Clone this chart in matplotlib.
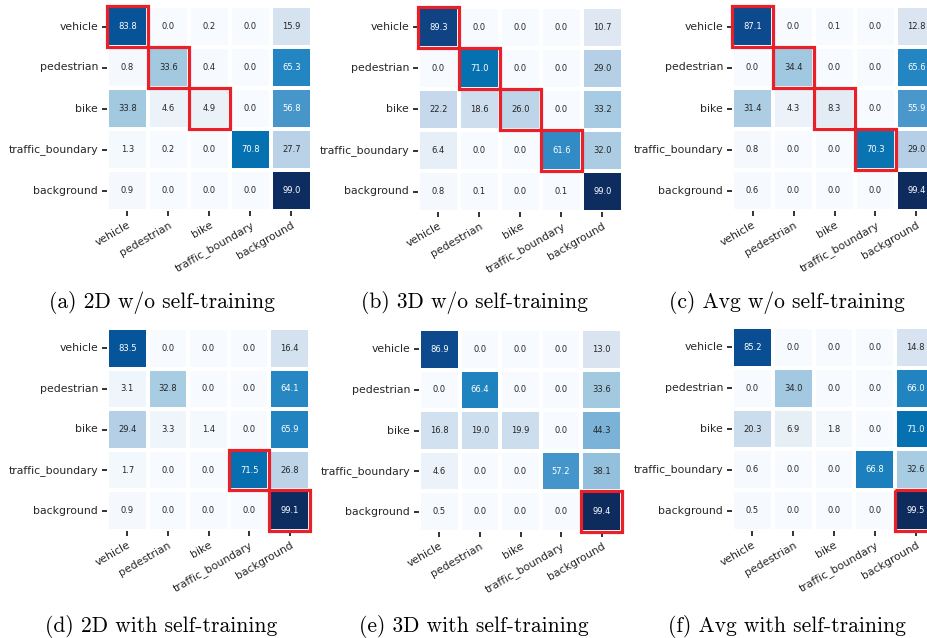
import numpy as np
import matplotlib
matplotlib.use("Agg")
import matplotlib.pyplot as plt
import seaborn as sns
from matplotlib.colors import LinearSegmentedColormap
from matplotlib.patches import Rectangle

classes = ['vehicle', 'pedestrian', 'bike', 'traffic_boundary', 'background']

# row-normalised confusion matrices (%)
cm_2d_wo = [[83.8, 0.0, 0.2, 0.0, 15.9],
            [0.8, 33.6, 0.4, 0.0, 65.3],
            [33.8, 4.6, 4.9, 0.0, 56.8],
            [1.3, 0.2, 0.0, 70.8, 27.7],
            [0.9, 0.0, 0.0, 0.0, 99.0]]
cm_3d_wo = [[89.3, 0.0, 0.0, 0.0, 10.7],
            [0.0, 71.0, 0.0, 0.0, 29.0],
            [22.2, 18.6, 26.0, 0.0, 33.2],
            [6.4, 0.0, 0.0, 61.6, 32.0],
            [0.8, 0.1, 0.0, 0.1, 99.0]]
cm_avg_wo = [[87.1, 0.0, 0.1, 0.0, 12.8],
             [0.0, 34.4, 0.0, 0.0, 65.6],
             [31.4, 4.3, 8.3, 0.0, 55.9],
             [0.8, 0.0, 0.0, 70.3, 29.0],
             [0.6, 0.0, 0.0, 0.0, 99.4]]
cm_2d_st = [[83.5, 0.0, 0.0, 0.0, 16.4],
            [3.1, 32.8, 0.0, 0.0, 64.1],
            [29.4, 3.3, 1.4, 0.0, 65.9],
            [1.7, 0.0, 0.0, 71.5, 26.8],
            [0.9, 0.0, 0.0, 0.0, 99.1]]
cm_3d_st = [[86.9, 0.0, 0.0, 0.0, 13.0],
            [0.0, 66.4, 0.0, 0.0, 33.6],
            [16.8, 19.0, 19.9, 0.0, 44.3],
            [4.6, 0.0, 0.0, 57.2, 38.1],
            [0.5, 0.0, 0.0, 0.0, 99.4]]
cm_avg_st = [[85.2, 0.0, 0.0, 0.0, 14.8],
             [0.0, 34.0, 0.0, 0.0, 66.0],
             [20.3, 6.9, 1.8, 0.0, 71.0],
             [0.6, 0.0, 0.0, 66.8, 32.6],
             [0.5, 0.0, 0.0, 0.0, 99.5]]

captions = ['(a) 2D w/o self-training', '(b) 3D w/o self-training', '(c) Avg w/o self-training',
            '(d) 2D with self-training', '(e) 3D with self-training', '(f) Avg with self-training']

# diagonal cells that improved between the two settings
highlight = [[0, 1, 2], [0, 1, 2, 3], [0, 1, 2, 3],
             [3, 4], [4], [4]]

mats = [cm_2d_wo, cm_3d_wo, cm_avg_wo, cm_2d_st, cm_3d_st, cm_avg_st]

# a slightly more saturated take on Blues
blues = LinearSegmentedColormap.from_list('blues_sat', [
    (0.00, '#f7fbff'), (0.05, '#e9f1f8'), (0.11, '#dde6f2'), (0.16, '#d4e2f0'),
    (0.22, '#c6d9ec'), (0.28, '#b9d1e7'), (0.33, '#a6cbe2'), (0.44, '#7bb3d8'),
    (0.56, '#4a98cb'), (0.62, '#2f8ac4'), (0.66, '#2184c0'), (0.71, '#0571b1'),
    (0.835, '#06549a'), (0.89, '#0f4486'), (1.00, '#0d2a5c')])

W, H = 928, 638
fig = plt.figure(figsize=(W / 100, H / 100), dpi=100)

# heatmap boxes in pixels: left, top, size
boxes = [(107, 6, 205), (418, 7, 205), (732, 6, 205),
         (107, 328, 203), (419, 329, 203), (732, 327, 204)]
cap_pos = [(162, 303), (474, 303), (787, 303),
           (161, 626), (474, 626), (787, 626)]

for m, hl, cap, (l, t, s), (cx, cy) in zip(mats, highlight, captions, boxes, cap_pos):
    ax = fig.add_axes([l / W, (H - t - s) / H, s / W, s / H])
    sns.heatmap(np.array(m), ax=ax, cmap=blues, vmin=0, vmax=100,
                annot=True, fmt='.1f', annot_kws={'fontsize': 6},
                linewidths=1.5, linecolor='white', cbar=False,
                xticklabels=classes, yticklabels=classes)
    ax.tick_params(axis='both', length=3.5, width=1.3, color='#222222',
                   labelsize=7.8, labelcolor='#262626', pad=3)
    plt.setp(ax.get_xticklabels(), rotation=30, ha='right', va='top',
             rotation_mode='anchor')
    plt.setp(ax.get_yticklabels(), rotation=0)
    for i in hl:
        ax.add_patch(Rectangle((i, i), 1, 1, fill=False, edgecolor='#e8202a',
                               linewidth=2.3, clip_on=False, zorder=5))
    fig.text(cx / W, 1 - cy / H, cap, ha='center', va='center',
             fontsize=15.5, family='cmr10')

fig.savefig('out.png', dpi=100)
